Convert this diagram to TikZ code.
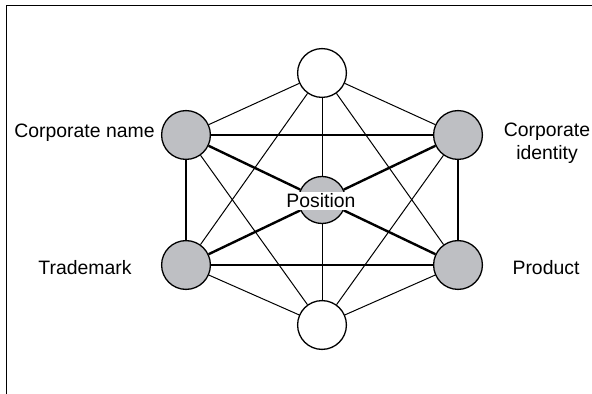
\documentclass[tikz,border=0pt]{standalone}
\usepackage{fontspec}
\setmainfont{Liberation Sans}
\definecolor{nodegray}{RGB}{190,191,195}
\begin{document}
\begin{tikzpicture}[x=0.5pt,y=-0.5pt,
  hub/.style={circle,draw=black,line width=0.65pt,minimum size=24.4pt,inner sep=0pt},
  grayhub/.style={hub,fill=nodegray},
  whitehub/.style={hub,fill=white},
  thinline/.style={line width=0.5pt},
  thickline/.style={line width=1.2pt},
  lbl/.style={font=\fontsize{9.7pt}{11.5pt}\selectfont,inner sep=0pt,align=center}]
\useasboundingbox (0,0) rectangle (592,394);
\coordinate (fa) at (6.5,394);
\coordinate (fb) at (6.5,5.5);
\coordinate (fc) at (592,5.5);
\draw[line width=0.7pt] (fa) -- (fb) -- (fc);
% nodes
\node[whitehub] (top) at (322,73) {};
\node[grayhub] (cn) at (186,135) {};
\node[grayhub] (ci) at (458,135) {};
\node[grayhub,minimum size=23.5pt] (pos) at (322,200) {};
\node[grayhub] (tm) at (186,265) {};
\node[grayhub] (pr) at (458,265) {};
\node[whitehub] (bot) at (322,325) {};
% thin edges
\draw[thinline] (top) -- (cn);
\draw[thinline] (top) -- (ci);
\draw[thinline] (top) -- (tm);
\draw[thinline] (top) -- (pr);
\draw[thinline] (top) -- (pos);
\draw[thinline] (pos) -- (bot);
\draw[thinline] (bot) -- (cn);
\draw[thinline] (bot) -- (ci);
\draw[thinline] (bot) -- (tm);
\draw[thinline] (bot) -- (pr);
% thick edges
\draw[thickline] (cn) -- (ci);
\draw[thickline] (cn) -- (tm);
\draw[thickline] (ci) -- (pr);
\draw[thickline] (tm) -- (pr);
\draw[thickline] (cn) -- (pos);
\draw[thickline] (ci) -- (pos);
\draw[thickline] (tm) -- (pos);
\draw[thickline] (pr) -- (pos);
% labels
\node[lbl,fill=white,inner sep=1pt] (poslbl) at (321,201) {Position};
\node[lbl,anchor=east] (cnlbl) at (155,133) {Corporate name};
\node[lbl] (cilbl) at (547,143) {Corporate\\identity};
\node[lbl] (tmlbl) at (85,268) {Trademark};
\node[lbl] (prlbl) at (546,268) {Product};
\end{tikzpicture}
\end{document}
